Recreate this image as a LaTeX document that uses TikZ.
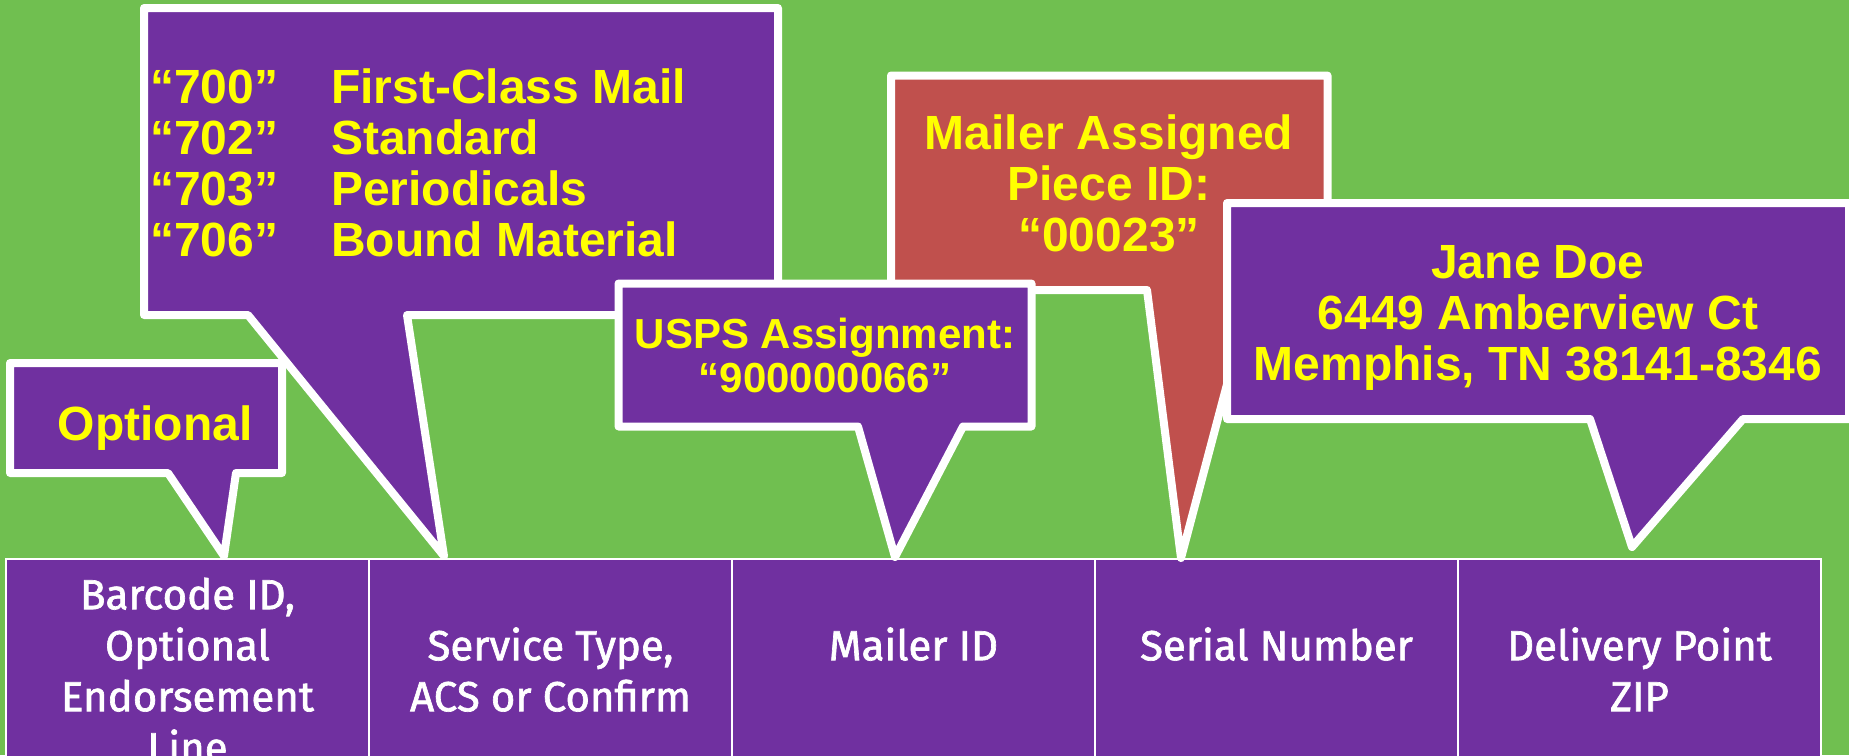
\documentclass[tikz,border=0pt]{standalone}
\usepackage{fontspec}
\setmainfont{Liberation Sans}
\newfontfamily\cellfont[FakeBold=1.6]{Fira Sans}
\usetikzlibrary{positioning}

\definecolor{bggreen}{RGB}{112,191,80}
\definecolor{mailpurple}{RGB}{112,48,160}
\definecolor{mailred}{RGB}{192,80,77}
\definecolor{tagyellow}{RGB}{255,255,0}

\tikzset{
	bubble/.style={draw=white, line width=8pt, line join=round, fill=mailpurple},
	bubbletext/.style={text=tagyellow, font=\bfseries\fontsize{48}{51}\selectfont, align=center, inner sep=0pt, anchor=north},
	cell/.style={draw=white, line width=2pt, fill=mailpurple, minimum width=363pt, minimum height=240pt, inner sep=0pt, outer sep=0pt, anchor=north},
	celltext/.style={text=white, font=\cellfont\fontsize{42}{51}\selectfont, align=center, inner sep=0pt}
}

\begin{document}
\begin{tikzpicture}[x=1pt, y=-1pt]
		\useasboundingbox (0, 0) rectangle (1849, 755);
		\fill[bggreen] (0, 0) rectangle (1849, 755);

		% the five fields of the barcode
		\node[cell] (barcode) at (187.5, 559) {};
		\node[cell, right=0pt of barcode] (service) {};
		\node[cell, right=0pt of service] (mailer) {};
		\node[cell, right=0pt of mailer] (serial) {};
		\node[cell, right=0pt of serial] (delivery) {};
		\node[celltext, below=14.3pt of barcode.north] (barcodetext) {\strut Barcode ID,\\ Optional\\ Endorsement\\ Line};
		\node[celltext, below=65.3pt of service.north] (servicetext) {\strut Service Type,\\ ACS or Confirm};
		\node[celltext, below=65.3pt of mailer.north] (mailertext) {\strut Mailer ID};
		\node[celltext, below=65.3pt of serial.north] (serialtext) {\strut Serial Number};
		\node[celltext, below=65.3pt of delivery.north] (deliverytext) {\strut Delivery Point\\ ZIP};

		% callouts
		\draw[bubble] (10, 363) -- (282, 363) -- (282, 473) -- (236, 473) -- (224, 556) -- (168, 473) -- (10, 473) -- cycle;
		\node[bubbletext] (optnote) at (155, 404.3) {\strut Optional};

		\draw[bubble] (144, 8) -- (778, 8) -- (778, 315) -- (407, 315) -- (444, 556) -- (248, 315) -- (144, 315) -- cycle;
		\node[bubbletext, anchor=north west] (servicenote) at (150, 67.3) {%
			\begin{tabular}{@{}p{181pt}@{}l@{}}
				``700'' & First-Class Mail\\
				``702'' & Standard\\
				``703'' & Periodicals\\
				``706'' & Bound Material
			\end{tabular}};

		\draw[bubble, fill=mailred] (891, 75.5) -- (1327.5, 75.5) -- (1327.5, 290) -- (1252, 290) -- (1181, 558) -- (1147, 290) -- (891, 290) -- cycle;
		\node[bubbletext] (piecenote) at (1109, 113.3) {\strut Mailer Assigned\\ Piece ID:\\ ``00023''};

		\draw[bubble] (618.5, 283.5) -- (1031.5, 283.5) -- (1031.5, 426.5) -- (963, 426.5) -- (895, 557) -- (858, 426.5) -- (618.5, 426.5) -- cycle;
		\node[bubbletext, font=\bfseries\fontsize{42}{44}\selectfont] (mailernote) at (825, 317.2) {\strut USPS Assignment:\\ ``900000066''};

		\draw[bubble] (1227, 203) -- (1849, 203) -- (1849, 419) -- (1743, 419) -- (1632, 547) -- (1590, 419) -- (1227, 419) -- cycle;
		\node[bubbletext] (addressnote) at (1538, 242.3) {\strut Jane Doe\\ 6449 Amberview Ct\\ Memphis, TN 38141-8346};
	\end{tikzpicture}
\end{document}
